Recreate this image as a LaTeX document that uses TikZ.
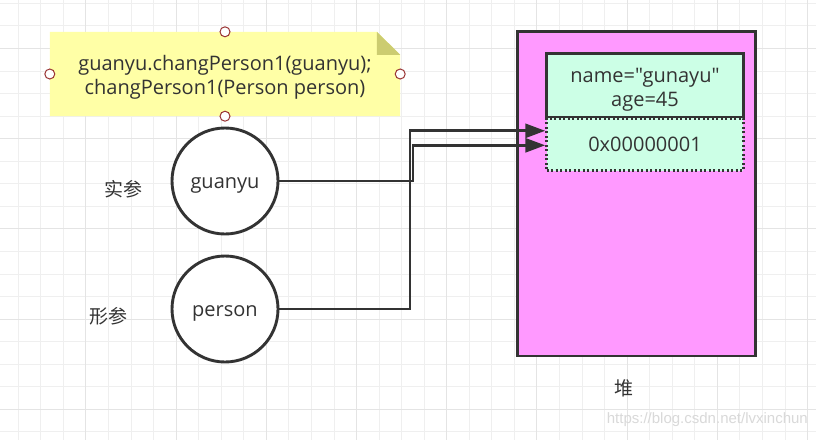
\documentclass[tikz,border=0pt]{standalone}
\usepackage{fontspec}
\setmainfont{Open Sans}[Ligatures=TeXOff]
\newfontfamily\cjk{Noto Sans CJK SC}
\newfontfamily\wmfont{Liberation Sans}
\usetikzlibrary{arrows.meta,calc}
\definecolor{ink}{HTML}{333333}
\definecolor{notefill}{HTML}{FFFFA6}
\definecolor{notefold}{HTML}{CCCC70}
\definecolor{heapfill}{HTML}{FF99FF}
\definecolor{mint}{HTML}{CCFFE6}
\definecolor{gridmin}{HTML}{EFEFEF}
\definecolor{gridmaj}{HTML}{E4E4E4}
\definecolor{handle}{HTML}{993333}
\tikzset{
  txt/.style={text=ink, font=\fontsize{20}{24}\selectfont, align=center, inner sep=0pt},
  cjktxt/.style={text=ink, font=\cjk\fontsize{19}{22}\selectfont, inner sep=0pt},
  varcircle/.style={circle, draw=ink, line width=2.9pt, fill=white, minimum size=106pt, inner sep=0pt, text=ink, font=\fontsize{20}{24}\selectfont, text height=14pt, text depth=0pt},
  handlept/.style={circle, draw=handle, line width=1pt, fill=white, minimum size=10pt, inner sep=0pt},
  conn/.style={draw=ink, line width=2.9pt, -{Triangle[length=20pt,width=14pt]}},
}
\begin{document}
\begin{tikzpicture}[x=1pt,y=-1pt]
\fill[white] (0,0) rectangle (816,440);
\useasboundingbox (0,0) rectangle (816,440);
% grid
\foreach \k in {0,...,35} {\draw[gridmin, line width=1pt] ({18.3+22.55*\k},0) -- ({18.3+22.55*\k},440);}
\foreach \k in {0,...,19} {\draw[gridmin, line width=1pt] (0,{3.4+22.55*\k}) -- (816,{3.4+22.55*\k});}
\foreach \k in {3,7,...,35} {\draw[gridmaj, line width=1pt] ({18.3+22.55*\k},0) -- ({18.3+22.55*\k},440);}
\foreach \k in {2,6,...,18} {\draw[gridmaj, line width=1pt] (0,{3.4+22.55*\k}) -- (816,{3.4+22.55*\k});}

% note
\node[minimum width=350pt, minimum height=84pt, inner sep=0pt] (notebox) at (225,74) {};
\fill[notefill] (notebox.north west) -- ($(notebox.north east)+(-23.3,0)$) -- ($(notebox.north east)+(0,23)$) -- (notebox.south east) -- (notebox.south west) -- cycle;
\fill[notefold] ($(notebox.north east)+(-23.3,0)$) -- ($(notebox.north east)+(-23.3,23)$) -- ($(notebox.north east)+(0,23)$) -- cycle;
\node[txt] (notetext) at (225,77) {guanyu.changPerson1(guanyu);\\changPerson1(Person person)};
\node[handlept] (h1) at (notebox.north) {};
\node[handlept] (h2) at (notebox.south) {};
\node[handlept] (h3) at (notebox.west) {};
\node[handlept] (h4) at (notebox.east) {};

% heap
\node[draw=ink, fill=heapfill, line width=2.9pt, minimum width=238pt, minimum height=324.3pt, inner sep=0pt] (heap) at (636.3,193.85) {};
\node[draw=ink, fill=mint, line width=2.9pt, minimum width=196.6pt, minimum height=64pt, inner sep=0pt] (obj) at (645,85.3) {};
\node[txt] (objtext) at (645,89.5) {name="gunayu"\\age=45};
\node[draw=ink, fill=mint, line width=2.9pt, dash pattern=on 2pt off 2.5pt, minimum width=196.6pt, minimum height=52.7pt, inner sep=0pt, txt] (addr) at (645,144.5) {0x00000001};
\node[cjktxt] (heaplabel) at (623.5,388) {堆};

% variables
\node[varcircle] (g) at (225,181) {guanyu};
\node[varcircle] (p) at (225,309) {person};
\node[cjktxt] (shican) at (123.5,189) {实参};
\node[cjktxt] (xingcan) at (108,316.5) {形参};

% connectors
\draw[conn] (g.east) -- ++(133.5,0) |- ([yshift=-0.8pt]addr.west);
\draw[conn] (p.east) -- ++(130.5,0) |- ([yshift=13.7pt]addr.west);

% watermark
\node[text=black!15, font=\wmfont\fontsize{15}{18}\selectfont, inner sep=0pt, anchor=east] (wm) at (808,420) {https://blog.csdn.net/lvxinchun};
\end{tikzpicture}
\end{document}
